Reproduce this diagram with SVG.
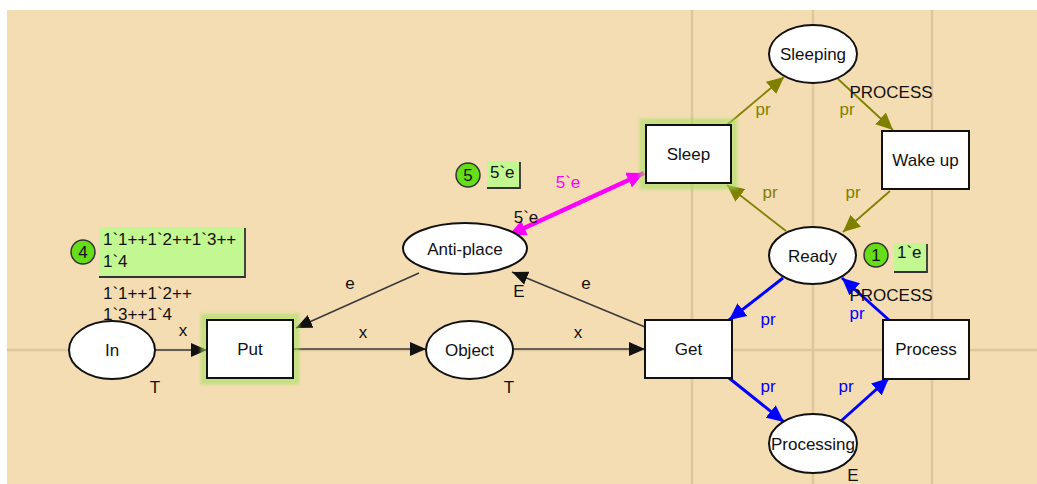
<svg xmlns="http://www.w3.org/2000/svg" width="1037" height="484" viewBox="0 0 1037 484">
<defs>
<style>
text{font-family:"Liberation Sans",Arial,sans-serif;font-size:17px;fill:#111}
.c{text-anchor:middle;dominant-baseline:central}
.l{dominant-baseline:central}
.place{fill:#fff;stroke:#111;stroke-width:2}
.trans{fill:#fff;stroke:#111;stroke-width:2}
.glow{fill:none;stroke:#9ee05a;stroke-width:7;stroke-opacity:0.55;filter:url(#blur)}
.guide{stroke:#dfc69c;stroke-width:2.5}
.ak{fill:none;stroke:#3a3a3a;stroke-width:1.6}
.ao{fill:none;stroke:#808000;stroke-width:1.8}
.ab{fill:none;stroke:#0000ff;stroke-width:3}
.am{fill:none;stroke:#ff00ff;stroke-width:4.5}
.tb{fill:#c2f792}
.ts{fill:none;stroke:#333;stroke-width:1.8}
.tc{fill:#66dd1a;stroke:#333;stroke-width:1.5}
.olive{fill:#808000}
.blue{fill:#0000ff}
.mag{fill:#ff00ff}
</style>
<filter id="blur" x="-20%" y="-20%" width="140%" height="140%"><feGaussianBlur stdDeviation="1.5"/></filter>
<marker id="mk" markerUnits="userSpaceOnUse" markerWidth="18" markerHeight="14" refX="16" refY="7" orient="auto"><path d="M0,0 L16,7 L0,14 Z" fill="#111"/></marker>
<marker id="mo" markerUnits="userSpaceOnUse" markerWidth="18" markerHeight="16" refX="17" refY="8" orient="auto"><path d="M0,0 L17,8 L0,16 Z" fill="#808000"/></marker>
<marker id="mb" markerUnits="userSpaceOnUse" markerWidth="18" markerHeight="16" refX="17" refY="8" orient="auto"><path d="M0,0 L17,8 L0,16 Z" fill="#0000ff"/></marker>
<marker id="mm" markerUnits="userSpaceOnUse" markerWidth="18" markerHeight="16" refX="17" refY="8" orient="auto"><path d="M0,0 L17,8 L0,16 Z" fill="#ff00ff"/></marker>
<marker id="mms" markerUnits="userSpaceOnUse" markerWidth="18" markerHeight="16" refX="0" refY="8" orient="auto"><path d="M17,0 L0,8 L17,16 Z" fill="#ff00ff"/></marker>
</defs>
<rect x="0" y="0" width="1037" height="484" fill="#fff"/>
<rect x="7" y="10" width="1030" height="474" fill="#f5ddb3"/>
<g id="guides">
<line class="guide" x1="692" y1="10" x2="692" y2="484"/>
<line class="guide" x1="813" y1="10" x2="813" y2="484"/>
<line class="guide" x1="932" y1="10" x2="932" y2="484"/>
<line class="guide" x1="7" y1="350" x2="1037" y2="350"/>
</g>
<g id="connectors">
<text class="c" x="852" y="222">e</text>
<line class="ak" x1="155" y1="350" x2="207" y2="350" marker-end="url(#mk)"/>
<line class="ak" x1="293" y1="349" x2="426" y2="349" marker-end="url(#mk)"/>
<line class="ak" x1="513" y1="349" x2="645" y2="349" marker-end="url(#mk)"/>
<line class="ak" x1="419" y1="273" x2="296" y2="328" marker-end="url(#mk)"/>
<line class="ak" x1="645" y1="327" x2="512" y2="272" marker-end="url(#mk)"/>
<line class="am" x1="509" y1="235" x2="644" y2="173" marker-start="url(#mms)" marker-end="url(#mm)"/>
<line class="ao" x1="727" y1="125" x2="784" y2="77" marker-end="url(#mo)"/>
<line class="ao" x1="838" y1="79" x2="893" y2="130" marker-end="url(#mo)"/>
<line class="ao" x1="890" y1="191" x2="843" y2="232" marker-end="url(#mo)"/>
<line class="ao" x1="786" y1="231" x2="727" y2="185" marker-end="url(#mo)"/>
<line class="ab" x1="783" y1="278" x2="729" y2="320" marker-end="url(#mb)"/>
<line class="ab" x1="889" y1="320" x2="842" y2="278" marker-end="url(#mb)"/>
<line class="ab" x1="729" y1="378" x2="784" y2="422" marker-end="url(#mb)"/>
<line class="ab" x1="841" y1="421" x2="889" y2="378" marker-end="url(#mb)"/>
<text class="c" x="183" y="330">x</text>
<text class="c" x="363" y="332">x</text>
<text class="c" x="578" y="332">x</text>
<text class="c" x="350" y="283">e</text>
<text class="c" x="586" y="283">e</text>
<text class="c mag" x="568" y="182">5`e</text>
<text class="c" x="526" y="217">5`e</text>
<text class="c olive" x="763" y="109">pr</text>
<text class="c olive" x="847" y="109">pr</text>
<text class="c olive" x="770" y="192">pr</text>
<text class="c olive" x="853" y="192">pr</text>
<text class="c blue" x="768" y="319">pr</text>
<text class="c blue" x="857" y="313">pr</text>
<text class="c blue" x="768" y="386">pr</text>
<text class="c blue" x="846" y="386">pr</text>
</g>
<g id="In">
<ellipse class="place" cx="112" cy="350" rx="43" ry="29"/>
<text class="c" x="112" y="350">In</text>
<text class="c" x="155" y="387">T</text>
<text class="l" x="103" y="293">1`1++1`2++</text>
<text class="l" x="103" y="314">1`3++1`4</text>
</g>
<g id="marking-In">
<rect class="tb" x="99" y="227" width="146" height="50"/>
<polyline class="ts" points="245,228 245,277 99,277"/>
<circle class="tc" cx="83" cy="252" r="12"/>
<text class="c" x="83" y="252">4</text>
<text class="l" x="103" y="239">1`1++1`2++1`3++</text>
<text class="l" x="103" y="261">1`4</text>
</g>
<g id="Put">
<rect class="glow" x="204" y="317" width="92" height="64"/>
<rect class="trans" x="207" y="320" width="86" height="58"/>
<text class="c" x="250" y="349">Put</text>
</g>
<g id="Object">
<ellipse class="place" cx="469.5" cy="350" rx="43.5" ry="29"/>
<text class="c" x="469.5" y="350">Object</text>
<text class="c" x="509" y="387">T</text>
</g>
<g id="Anti-place">
<ellipse class="place" cx="465" cy="248.5" rx="62" ry="25.5"/>
<text class="c" x="465" y="249">Anti-place</text>
<text class="c" x="519" y="291">E</text>
</g>
<g id="marking-Anti-place">
<rect class="tb" x="487" y="161" width="33" height="27"/>
<polyline class="ts" points="520,162 520,188 487,188"/>
<circle class="tc" cx="468" cy="175" r="12"/>
<text class="c" x="468" y="175">5</text>
<text class="l" x="490" y="172">5`e</text>
</g>
<g id="Get">
<rect class="trans" x="645" y="320" width="87" height="58"/>
<text class="c" x="688.5" y="349">Get</text>
</g>
<g id="Sleep">
<rect class="glow" x="643" y="122" width="91" height="64"/>
<rect class="trans" x="646" y="125" width="85" height="58"/>
<text class="c" x="688.5" y="154">Sleep</text>
</g>
<g id="Sleeping">
<ellipse class="place" cx="813" cy="54" rx="44" ry="29"/>
<text class="c" x="813" y="54">Sleeping</text>
<text class="c" x="891" y="92">PROCESS</text>
</g>
<g id="Wake-up">
<rect class="trans" x="882" y="131" width="87" height="58"/>
<text class="c" x="925.5" y="160">Wake up</text>
</g>
<g id="Ready">
<ellipse class="place" cx="812.5" cy="255.5" rx="43.5" ry="28.5"/>
<text class="c" x="812.5" y="256">Ready</text>
<text class="c" x="891" y="295">PROCESS</text>
</g>
<g id="marking-Ready">
<rect class="tb" x="894" y="243" width="33" height="29"/>
<polyline class="ts" points="927,244 927,272 894,272"/>
<circle class="tc" cx="876" cy="255" r="12"/>
<text class="c" x="876" y="255">1</text>
<text class="l" x="897" y="252">1`e</text>
</g>
<g id="Process">
<rect class="trans" x="883" y="320" width="86" height="59"/>
<text class="c" x="926" y="349.5">Process</text>
</g>
<g id="Processing">
<ellipse class="place" cx="813" cy="443.5" rx="44" ry="29.5"/>
<text class="c" x="813" y="444">Processing</text>
<text class="c" x="853" y="475">E</text>
</g>
</svg>
